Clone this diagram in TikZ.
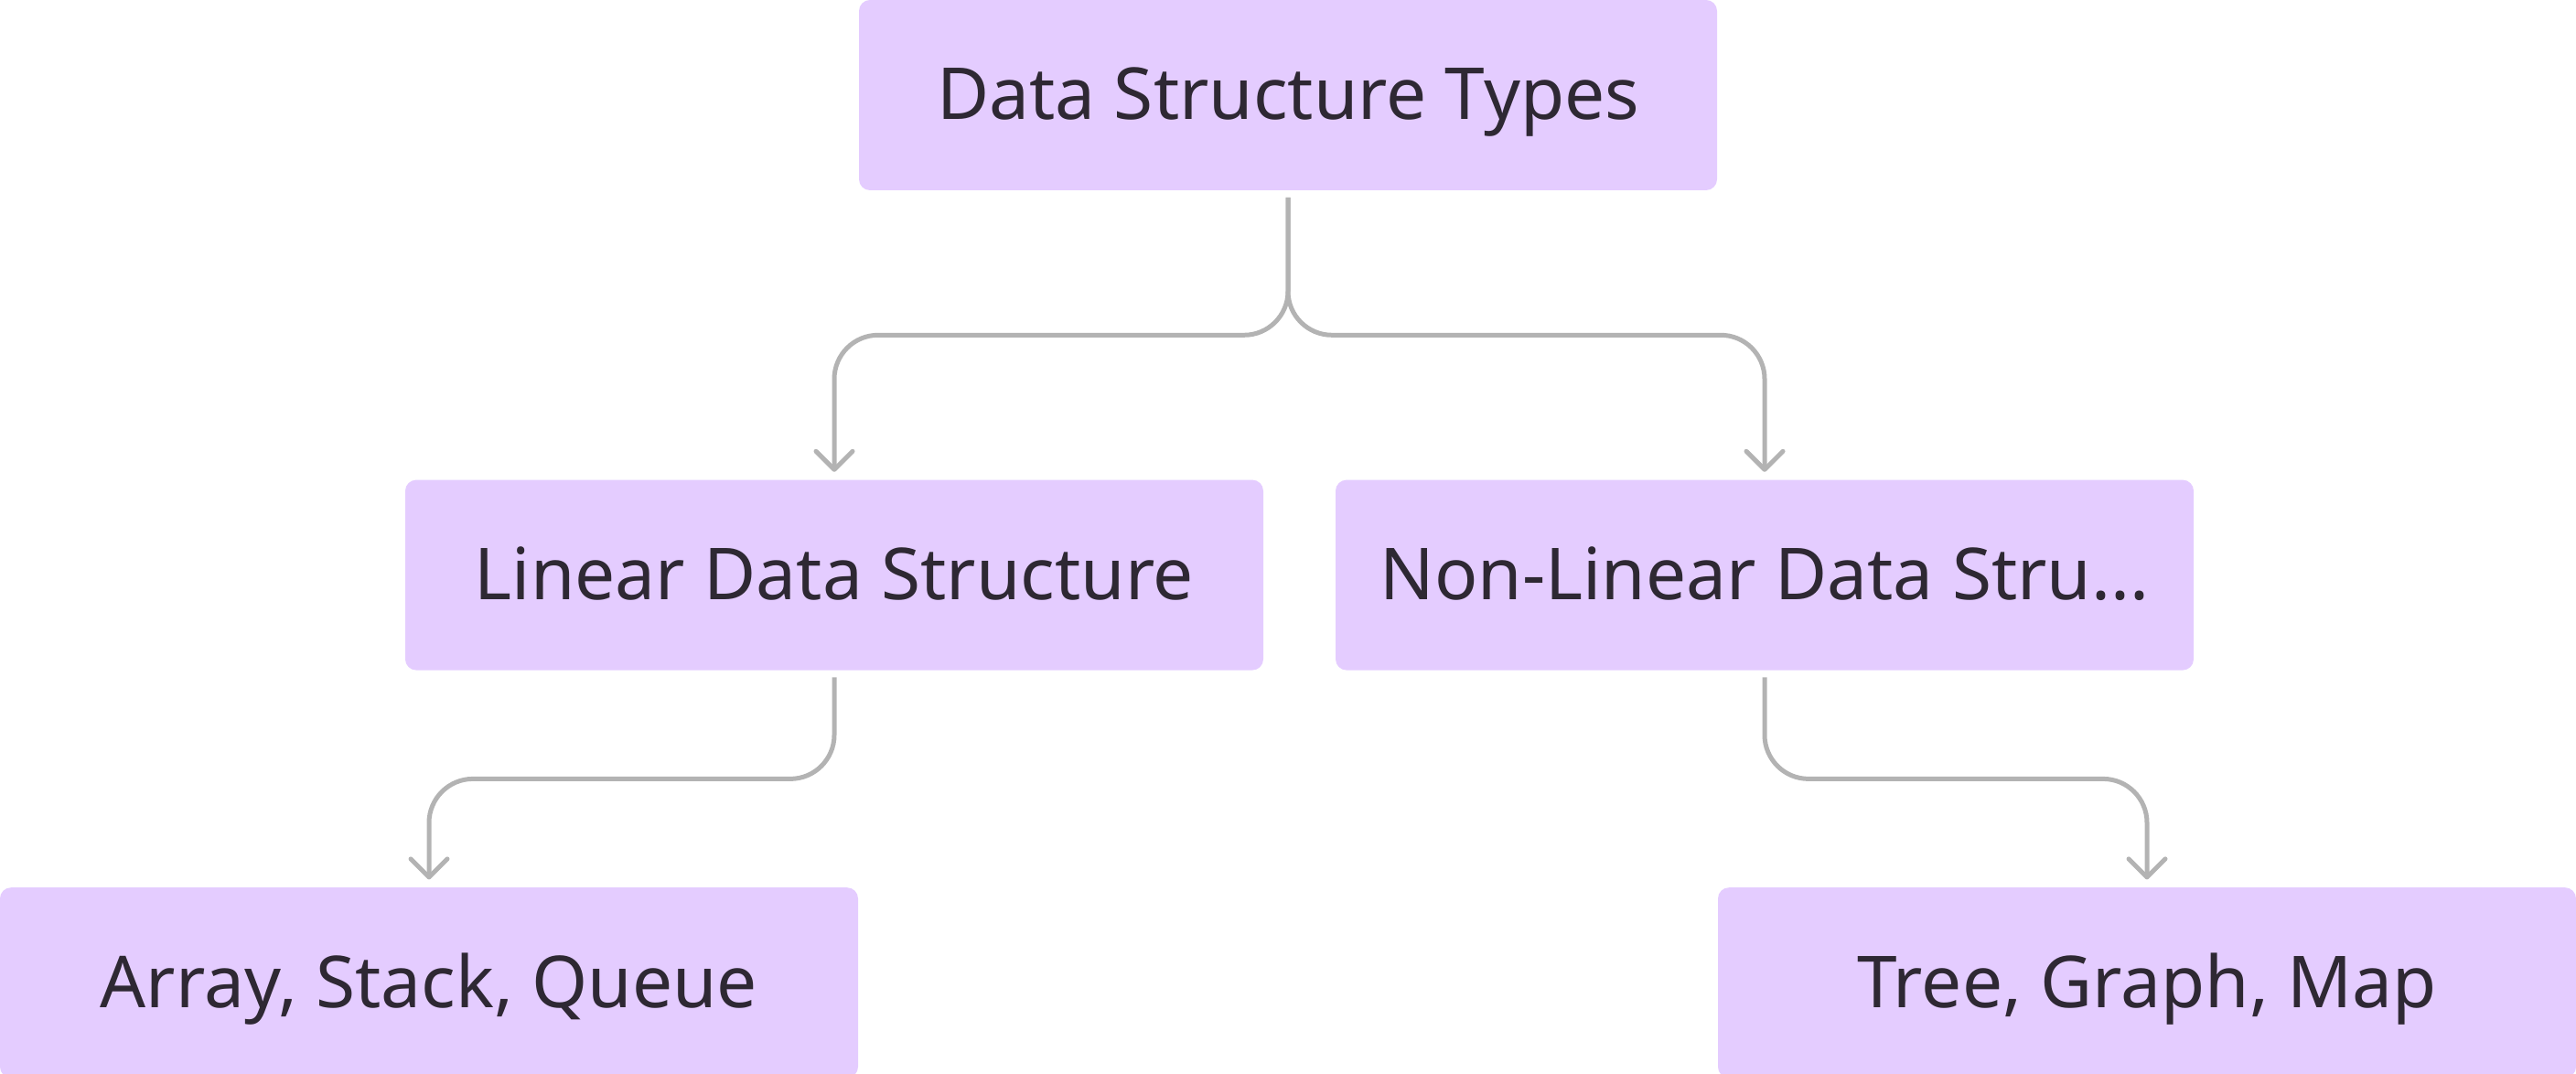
\documentclass[tikz,border=0pt]{standalone}
\usepackage{fontspec}
\setmainfont{Noto Sans}
\usetikzlibrary{positioning,calc,arrows.meta}
\definecolor{boxfill}{HTML}{E4CCFF}
\definecolor{boxtext}{HTML}{2E2833}
\definecolor{linkgray}{HTML}{B3B3B3}

\begin{document}
\begin{tikzpicture}[
        box/.style={rectangle, rounded corners=3pt, fill=boxfill, text=boxtext,
            minimum width=234.5pt, minimum height=52pt, inner sep=0pt,
            text height=14pt, text depth=0.6pt, font=\fontsize{19.6}{24}\selectfont},
        link/.style={draw=linkgray, line width=1.25pt, rounded corners=12pt,
            -{Straight Barb[length=5pt,width=10pt,round]}}]
        \useasboundingbox (0pt,0pt) rectangle (704pt,-293.5pt);
        % nodes (root)
        \node[box] (types) at (352pt,-26pt) {Data Structure Types};
        % nodes (second row)
        \node[box, below=78.75pt of types, xshift=-124pt] (linear) {Linear Data Structure};
        \node[box, below=78.75pt of types, xshift=130.25pt] (nonlinear) {Non-Linear Data Stru...};
        % nodes (leaves)
        \node[box, below=59pt of linear, xshift=-110.75pt] (array) {Array, Stack, Queue};
        \node[box, below=59pt of nonlinear, xshift=104.5pt] (tree) {Tree, Graph, Map};
        % edges
        \draw[link] ([yshift=-1.75pt]types.south) |- ($(types.south)!.5!(linear.north)$) -| ([yshift=2pt]linear.north);
        \draw[link] ([yshift=-1.75pt]types.south) |- ($(types.south)!.5!(nonlinear.north)$) -| ([yshift=2pt]nonlinear.north);
        \draw[link] ([yshift=-1.75pt]linear.south) |- ($(linear.south)!.5!(array.north)$) -| ([yshift=2pt]array.north);
        \draw[link] ([yshift=-1.75pt]nonlinear.south) |- ($(nonlinear.south)!.5!(tree.north)$) -| ([yshift=2pt]tree.north);
\end{tikzpicture}
\end{document}
